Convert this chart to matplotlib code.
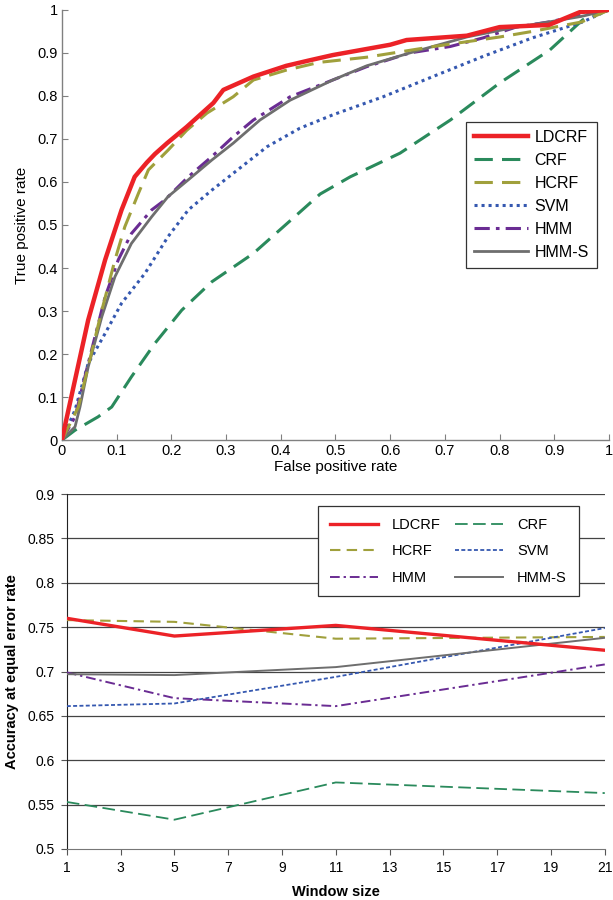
import numpy as np
import matplotlib
matplotlib.use('Agg')
import matplotlib.pyplot as plt

plt.rcParams['font.family'] = ['Liberation Sans', 'DejaVu Sans']

# ROC curves (false positive rate, true positive rate)
ldcrf_fpr = [0, 0.005, 0.048, 0.079, 0.109, 0.133, 0.155, 0.17, 0.192, 0.228, 0.277, 0.295, 0.35, 0.41, 0.45, 0.495, 0.6, 0.63, 0.74, 0.8, 0.89, 0.947, 1]
ldcrf_tpr = [0, 0.03, 0.279, 0.419, 0.535, 0.612, 0.645, 0.665, 0.69, 0.728, 0.784, 0.814, 0.845, 0.87, 0.882, 0.895, 0.919, 0.93, 0.94, 0.96, 0.965, 0.995, 1]

crf_fpr = [0, 0.024, 0.066, 0.091, 0.127, 0.17, 0.219, 0.274, 0.35, 0.404, 0.435, 0.472, 0.527, 0.618, 0.71, 0.8, 0.892, 0.952, 1]
crf_tpr = [0, 0.023, 0.054, 0.077, 0.147, 0.225, 0.302, 0.368, 0.434, 0.495, 0.53, 0.572, 0.612, 0.667, 0.744, 0.83, 0.907, 0.977, 1]

hcrf_fpr = [0, 0.03, 0.073, 0.097, 0.115, 0.14, 0.158, 0.194, 0.228, 0.265, 0.313, 0.35, 0.41, 0.47, 0.557, 0.68, 0.8, 0.86, 0.95, 1]
hcrf_tpr = [0, 0.077, 0.302, 0.419, 0.496, 0.574, 0.628, 0.674, 0.72, 0.76, 0.798, 0.837, 0.86, 0.878, 0.89, 0.915, 0.937, 0.95, 0.972, 1]

svm_fpr = [0, 0.024, 0.048, 0.079, 0.109, 0.152, 0.194, 0.231, 0.274, 0.313, 0.375, 0.435, 0.495, 0.587, 0.678, 0.77, 0.86, 0.952, 1]
svm_tpr = [0, 0.07, 0.178, 0.248, 0.318, 0.388, 0.473, 0.535, 0.581, 0.62, 0.682, 0.725, 0.756, 0.798, 0.845, 0.892, 0.935, 0.972, 1]

hmm_fpr = [0, 0.024, 0.048, 0.079, 0.103, 0.127, 0.164, 0.188, 0.231, 0.274, 0.313, 0.35, 0.417, 0.495, 0.557, 0.636, 0.71, 0.77, 0.83, 0.89, 0.95, 1]
hmm_tpr = [0, 0.054, 0.178, 0.333, 0.419, 0.48, 0.535, 0.558, 0.612, 0.659, 0.705, 0.744, 0.798, 0.837, 0.868, 0.9, 0.915, 0.935, 0.96, 0.972, 0.988, 1]

hmms_fpr = [0, 0.024, 0.033, 0.048, 0.073, 0.097, 0.127, 0.164, 0.194, 0.231, 0.274, 0.313, 0.362, 0.417, 0.495, 0.557, 0.636, 0.74, 0.83, 0.89, 0.95, 1]
hmms_tpr = [0, 0.031, 0.077, 0.17, 0.287, 0.38, 0.457, 0.519, 0.566, 0.605, 0.651, 0.69, 0.744, 0.79, 0.837, 0.87, 0.9, 0.937, 0.96, 0.972, 0.985, 1]

# Accuracy at equal error rate vs window size
window = [1, 5, 11, 21]
acc_ldcrf = [0.760, 0.740, 0.752, 0.724]
acc_crf = [0.553, 0.533, 0.575, 0.563]
acc_hcrf = [0.758, 0.756, 0.737, 0.739]
acc_svm = [0.661, 0.664, 0.694, 0.749]
acc_hmm = [0.699, 0.670, 0.661, 0.708]
acc_hmms = [0.697, 0.696, 0.705, 0.738]

c_red = '#ec2227'
c_green = '#2a8a5c'
c_olive = '#a0a03c'
c_blue = '#3558b0'
c_purple = '#6a2c93'
c_gray = '#6e6e6e'

fig = plt.figure(figsize=(6.13, 9), dpi=100)

# ---- top: ROC curves
ax1 = fig.add_axes([0.101, 0.511, 0.8925, 0.478])
ax1.plot(ldcrf_fpr, ldcrf_tpr, color=c_red, lw=3.2, label='LDCRF', zorder=6)
ax1.plot(crf_fpr, crf_tpr, color=c_green, lw=2.2, dashes=(6, 3), label='CRF')
ax1.plot(hcrf_fpr, hcrf_tpr, color=c_olive, lw=2.2, dashes=(6, 3), label='HCRF', zorder=5)
ax1.plot(svm_fpr, svm_tpr, color=c_blue, lw=2.2, dashes=(1, 1.3), label='SVM')
ax1.plot(hmm_fpr, hmm_tpr, color=c_purple, lw=2.2, dashes=(5, 2, 1.2, 2), label='HMM')
ax1.plot(hmms_fpr, hmms_tpr, color=c_gray, lw=2.0, label='HMM-S')
ax1.set_xlim(0, 1)
ax1.set_ylim(0, 1)
ticks = np.arange(0, 1.01, 0.1)
tlabels = ['0'] + ['%.1f' % t for t in ticks[1:-1]] + ['1']
ax1.set_xticks(ticks)
ax1.set_xticklabels(tlabels)
ax1.set_yticks(ticks)
ax1.set_yticklabels(tlabels)
ax1.tick_params(direction='in', length=4, color='#808080', labelsize=10.5, pad=3)
for s in ['top', 'right']:
    ax1.spines[s].set_visible(False)
for s in ['left', 'bottom']:
    ax1.spines[s].set_color('#808080')
    ax1.spines[s].set_linewidth(1.0)
ax1.set_xlabel('False positive rate', fontsize=11, labelpad=1)
ax1.set_ylabel('True positive rate', fontsize=11, labelpad=6)
leg1 = ax1.legend(loc='upper right', bbox_to_anchor=(0.978, 0.74), fontsize=11.5,
                  handlelength=3.4, labelspacing=0.5, handletextpad=0.4,
                  borderpad=0.5, frameon=True, fancybox=False, borderaxespad=0)
leg1.get_frame().set_edgecolor('black')
leg1.get_frame().set_linewidth(0.9)

# ---- bottom: accuracy vs window size
ax2 = fig.add_axes([0.109, 0.0567, 0.8776, 0.3943])
for y in np.arange(0.55, 0.901, 0.05):
    ax2.axhline(y, color='#444444', lw=0.9, zorder=1)
l_ldcrf, = ax2.plot(window, acc_ldcrf, color=c_red, lw=2.4, label='LDCRF', zorder=4)
l_crf, = ax2.plot(window, acc_crf, color=c_green, lw=1.3, dashes=(7, 3), label='CRF', zorder=3)
l_hcrf, = ax2.plot(window, acc_hcrf, color=c_olive, lw=1.5, dashes=(5, 3), label='HCRF', zorder=3)
l_svm, = ax2.plot(window, acc_svm, color=c_blue, lw=1.3, dashes=(2.2, 1.3), label='SVM', zorder=3)
l_hmm, = ax2.plot(window, acc_hmm, color=c_purple, lw=1.4, dashes=(5, 2, 1.2, 2), label='HMM', zorder=3)
l_hmms, = ax2.plot(window, acc_hmms, color=c_gray, lw=1.4, label='HMM-S', zorder=3)
ax2.set_xlim(1, 21)
ax2.set_ylim(0.5, 0.9)
ax2.set_xticks(range(1, 22, 2))
yt = np.arange(0.5, 0.901, 0.05)
ax2.set_yticks(yt)
ax2.set_yticklabels(['%g' % round(v, 2) for v in yt])
ax2.tick_params(direction='out', length=4, color='#555555', labelsize=10, pad=5)
for s in ['top', 'right']:
    ax2.spines[s].set_visible(False)
ax2.spines['left'].set_color('#222222')
ax2.spines['bottom'].set_color('#777777')
ax2.set_xlabel('Window size', fontsize=10.5, fontweight='bold', labelpad=7)
ax2.set_ylabel('Accuracy at equal error rate', fontsize=10.5, fontweight='bold', labelpad=6)
# row-wise order like the original legend
handles = [l_ldcrf, l_hcrf, l_hmm, l_crf, l_svm, l_hmms]
leg2 = ax2.legend(handles, [h.get_label() for h in handles], loc='upper left',
                  bbox_to_anchor=(0.467, 0.966), ncol=2, fontsize=10.5,
                  handlelength=3.3, labelspacing=0.85, handletextpad=0.95, columnspacing=1.0,
                  borderpad=0.8, frameon=True, fancybox=False, borderaxespad=0, framealpha=1)
leg2.get_frame().set_edgecolor('#333333')
leg2.get_frame().set_linewidth(0.9)
leg2.set_zorder(10)

fig.savefig('out.png', dpi=100)
